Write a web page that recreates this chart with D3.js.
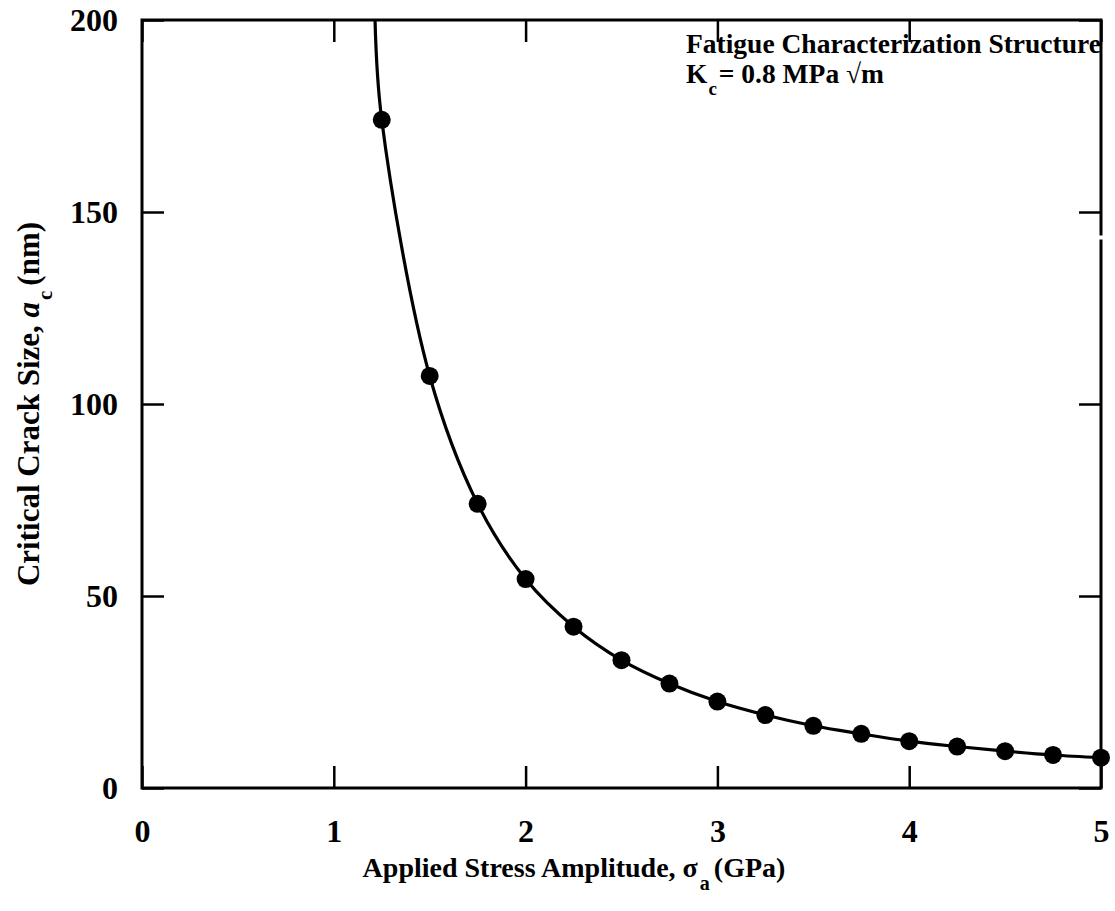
<!DOCTYPE html>
<html>
<head>
<meta charset="utf-8">
<script src="https://cdn.jsdelivr.net/npm/d3@7/dist/d3.min.js"></script>
<style>
html,body{margin:0;padding:0;background:#fff;}
svg text{font-family:"Liberation Serif","Times New Roman",serif;font-weight:bold;fill:#000;}
</style>
</head>
<body>
<svg id="chart" width="1115" height="911"></svg>
<script>
// Data
const stress = [1.25,1.5,1.75,2.0,2.25,2.5,2.75,3.0,3.25,3.5,3.75,4.0,4.25,4.5,4.75,5.0];
const crack  = [174.0,107.3,74.0,54.4,42.0,33.3,27.2,22.5,19.0,16.2,14.1,12.2,10.8,9.6,8.6,7.9];
// curve leaves the top of the frame here
const curveTopX = [1.215];
const curveTopY = [200];
const xTicks = [0,1,2,3,4,5];
const yTicks = [0,50,100,150,200];

const svg = d3.select("#chart");
const L=142, R=1101, T=20, B=788;
const x = d3.scaleLinear().domain([0,5]).range([L,R]);
const y = d3.scaleLinear().domain([0,200]).range([B,T]);
const tick = 22;

svg.append("defs").append("clipPath").attr("id","clip")
  .append("rect").attr("x",L).attr("y",T).attr("width",R-L).attr("height",B-T);

// axes
const gx = svg.append("g").attr("transform",`translate(0,${B})`)
  .call(d3.axisBottom(x).tickValues(xTicks).tickSizeInner(-tick).tickSizeOuter(0).tickPadding(33).tickFormat(d3.format("d")));
const gy = svg.append("g").attr("transform",`translate(${L},0)`)
  .call(d3.axisLeft(y).tickValues(yTicks).tickSizeInner(-tick).tickSizeOuter(0).tickPadding(24).tickFormat(d3.format("d")));
const gt = svg.append("g").attr("transform",`translate(0,${T})`)
  .call(d3.axisTop(x).tickValues(xTicks).tickSizeInner(-tick).tickSizeOuter(0).tickFormat(""));
const gr = svg.append("g").attr("transform",`translate(${R},0)`)
  .call(d3.axisRight(y).tickValues(yTicks).tickSizeInner(-tick).tickSizeOuter(0).tickFormat(""));
[gx,gy,gt,gr].forEach(g=>{
  g.selectAll(".domain").remove();
  g.selectAll("line").attr("stroke","#000").attr("stroke-width",2.5);
  g.selectAll("text").attr("font-size",32).attr("font-family","Liberation Serif").attr("font-weight","bold");
});
gx.selectAll("text").attr("dy","0.66em");
gy.selectAll("text").attr("dy","0.34em");

// frame
const frame = svg.append("g").attr("stroke","#000").attr("stroke-width",3).attr("fill","none");
frame.append("path").attr("d",`M${R},${y(150)+22}L${R},${T}L${L},${T}L${L},${B}L${R},${B}L${R},${y(150)+29}`)
  .attr("stroke-linecap","square");

// curve
const linePts = curveTopX.map((v,i)=>[v,curveTopY[i]]).concat(stress.map((v,i)=>[v,crack[i]]));
const line = d3.line().x(d=>x(d[0])).y(d=>y(d[1])).curve(d3.curveCatmullRom.alpha(0.5));
svg.append("path").attr("d",line(linePts)).attr("fill","none").attr("stroke","#000")
  .attr("stroke-width",3.2).attr("clip-path","url(#clip)");

svg.append("g").selectAll("circle").data(stress).join("circle")
  .attr("cx",d=>x(d)).attr("cy",(d,i)=>y(crack[i])).attr("r",9).attr("fill","#000");

// legend
const lg = svg.append("g").attr("font-size",27.5);
lg.append("text").attr("x",686).attr("y",53).text("Fatigue Characterization Structure");
const k = lg.append("text").attr("x",686).attr("y",83);
k.append("tspan").text("K");
k.append("tspan").attr("font-size",19).attr("dy",12).attr("dx",1).text("c");
k.append("tspan").attr("dy",-12).attr("dx",2).text("= 0.8 MPa \u221Am");

// axis titles
const xt = svg.append("text").attr("x",574).attr("y",877).attr("text-anchor","middle").attr("font-size",28);
xt.append("tspan").text("Applied Stress Amplitude, \u03C3");
xt.append("tspan").attr("font-size",20).attr("dy",13).attr("dx",2).text("a");
xt.append("tspan").attr("dy",-13).attr("dx",4).text("(GPa)");

const yt = svg.append("text").attr("transform","translate(39,404) rotate(-90)").attr("text-anchor","middle").attr("font-size",31);
yt.append("tspan").text("Critical Crack Size, ");
yt.append("tspan").attr("font-style","italic").text("a");
yt.append("tspan").attr("font-size",21).attr("dy",13).attr("dx",2).text("c");
yt.append("tspan").attr("dy",-13).attr("dx",5).text("(nm)");
</script>
</body>
</html>
